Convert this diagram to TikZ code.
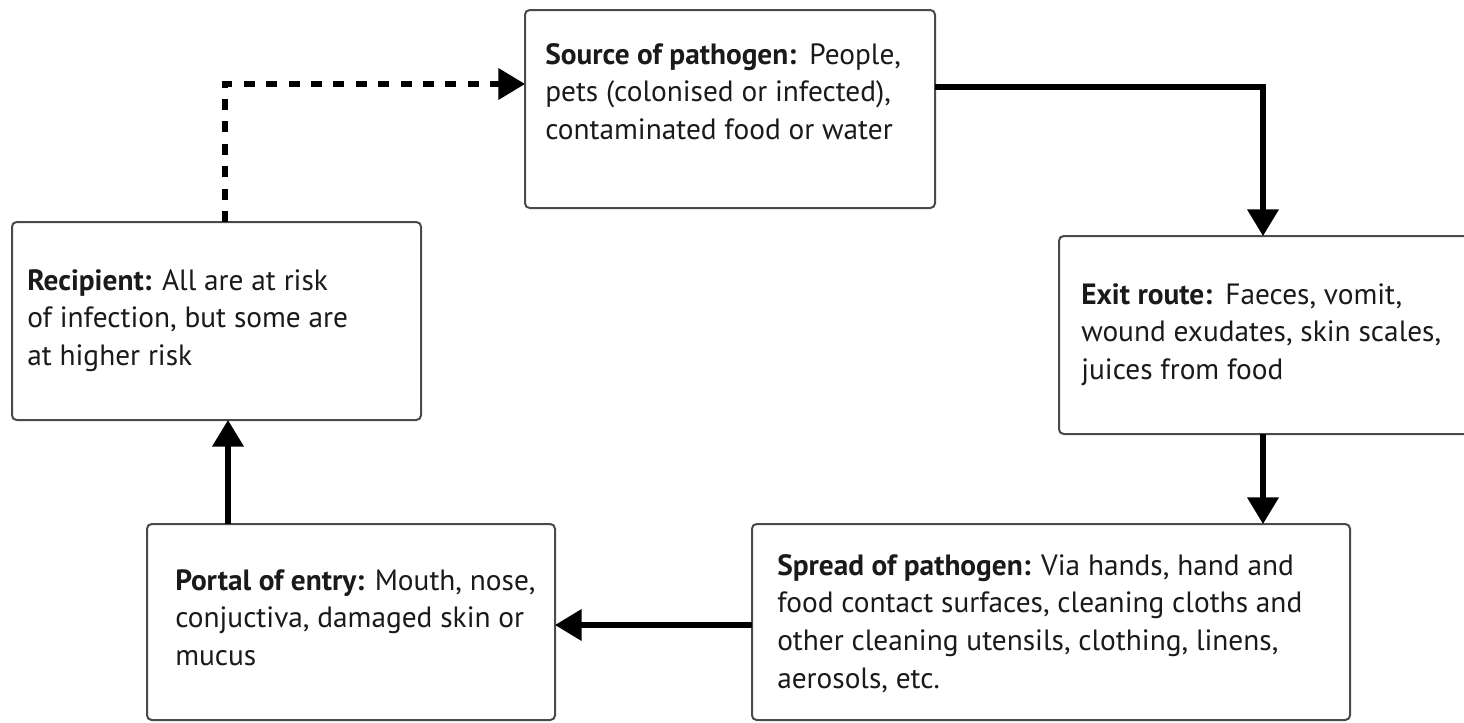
\documentclass[tikz,border=0pt]{standalone}
\usepackage{fontspec}
\setmainfont{PT Sans}
\usetikzlibrary{arrows.meta}
\definecolor{boxline}{HTML}{4A4A4A}
\definecolor{ink}{HTML}{1A1A1A}
\tikzset{
  stagebox/.style={draw=boxline, line width=1.5pt, rounded corners=3.5pt,
    inner sep=0pt, outer sep=0pt, fill=white},
  stagetext/.style={anchor=base west, inner sep=0pt, text=ink,
    font=\fontsize{22}{28.3}\selectfont},
  flow/.style={line width=3.8pt, draw=black,
    -{Triangle[length=20pt, width=23pt]}},
  loopback/.style={flow, dash pattern=on 8.2pt off 8.6pt}
}
\newcommand\stagelines[1]{\parbox[t]{440pt}{\raggedright #1}}
\begin{document}
\begin{tikzpicture}[x=0.75pt, y=-0.75pt]
  \clip (0,0) rectangle (1464,722);
  \useasboundingbox (0,0) rectangle (1464,722);

  % stage boxes
  \node[stagebox, minimum width=410*0.75pt, minimum height=198*0.75pt] (source) at (730,109) {};
  \node[stagebox, minimum width=410*0.75pt, minimum height=198*0.75pt] (exit) at (1264,335) {};
  \node[stagebox, minimum width=409*0.75pt, minimum height=198*0.75pt] (recip) at (216.5,321) {};
  \node[stagebox, minimum width=408*0.75pt, minimum height=196*0.75pt] (portal) at (351,622) {};
  \node[stagebox, minimum width=598*0.75pt, minimum height=196*0.75pt] (spread) at (1051,622) {};

  % stage descriptions
  \node[stagetext] (sourcet) at (545,64) {\stagelines{\textbf{Source of pathogen:}\hspace{0.45em}People,\\pets (colonised or infected),\\contaminated food or water}};
  \node[stagetext] (exitt) at (1081,304) {\stagelines{\textbf{Exit route:}\hspace{0.45em}Faeces, vomit,\\wound exudates, skin scales,\\juices from food}};
  \node[stagetext] (recipt) at (27,290) {\stagelines{\textbf{Recipient:} All are at risk\\of infection, but some are\\at higher risk}};
  \node[stagetext] (portalt) at (175,590) {\stagelines{\textbf{Portal of entry:} Mouth, nose,\\conjuctiva, damaged skin or\\mucus}};
  \node[stagetext] (spreadt) at (777,575) {\stagelines{\textbf{Spread of pathogen:} Via hands, hand and\\food contact surfaces, cleaning cloths and\\other cleaning utensils, clothing, linens,\\aerosols, etc.}};

  % routing points of the connectors
  \coordinate (loopy) at (225,84);
  \coordinate (outy) at (1263,87);
  \coordinate (lowy) at (0,625);
  \coordinate (upx) at (228,0);

  % chain of infection
  \draw[flow] (source.east |- outy) -| (exit.north -| outy);
  \draw[flow] (exit.south -| outy) -- (spread.north -| outy);
  \draw[flow] (spread.west |- lowy) -- (portal.east |- lowy);
  \draw[flow] (portal.north -| upx) -- (recip.south -| upx);
  \draw[loopback] (recip.north -| loopy) |- (source.west |- loopy);
\end{tikzpicture}
\end{document}
